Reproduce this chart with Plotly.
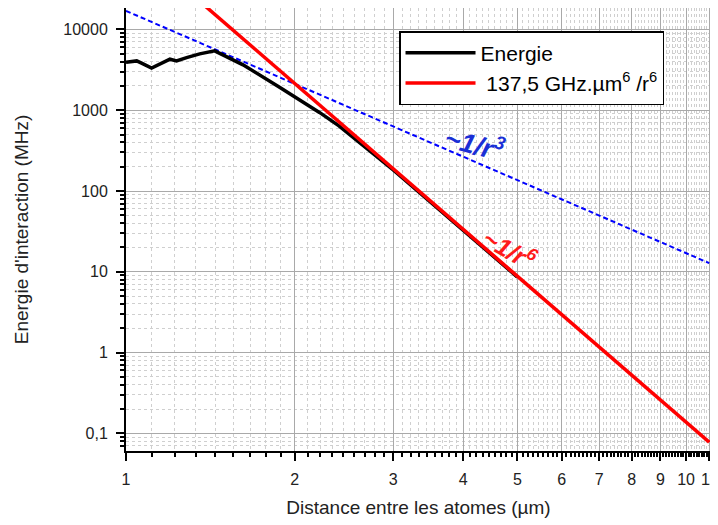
import numpy as np
import plotly.graph_objects as go

# Black curve "Energie"
energie_r = [1.0, 1.045, 1.066, 1.111, 1.198, 1.231, 1.283, 1.354, 1.44, 1.618, 1.88, 2.0,
             2.215, 2.4, 2.61, 2.833, 3.0, 3.3, 3.6, 4.0, 4.5, 5.0]
energie_v = [3940, 4085, 3830, 3320, 4285, 4085, 4490, 4990, 5430, 3650, 1930, 1480,
             940, 640, 401, 255, 182, 103, 61.5, 32.6, 16.1, 8.6]

# Red straight line (log-log) 137,5 GHz.um^6 / r^6 : endpoints
c6_r = [1.0, 11.0]
c6_v = [137500, 0.0776]

# Blue dashed ~1/r^3 guide : endpoints
c3_r = [1.0, 11.0]
c3_v = [17000, 12.8]

x_major = list(range(1, 12))
x_labels = [str(v) for v in x_major]
y_major = [0.1, 1, 10, 100, 1000, 10000]
y_labels = ["0,1", "1", "10", "100", "1000", "10000"]

x_minor = [k + j / 9 for k in range(1, 11) for j in range(1, 9)]
y_minor = [m * 10.0 ** e for e in range(-2, 5) for m in range(2, 10)]

FONT = "Liberation Sans, Arial, sans-serif"

fig = go.Figure()
fig.add_trace(go.Scatter(x=c3_r, y=c3_v, mode="lines", showlegend=False,
                         line=dict(color="#0000ff", width=2, dash="5px,3px")))
fig.add_trace(go.Scatter(x=energie_r, y=energie_v, mode="lines", name="Energie",
                         line=dict(color="black", width=3.5)))
fig.add_trace(go.Scatter(x=c6_r, y=c6_v, mode="lines",
                         name=" 137,5 GHz.µm<sup>6</sup> /r<sup>6</sup>",
                         line=dict(color="#ff0000", width=3.5)))

axis_common = dict(
    type="log", showline=True, linecolor="black", linewidth=2, mirror=True,
    ticks="outside", ticklen=8, tickwidth=1.5, tickcolor="black",
    showgrid=True, gridcolor="#a9a9a9", gridwidth=1, zeroline=False,
    tickfont=dict(family=FONT, size=16, color="#222"),
    ticklabelstandoff=5, automargin=False, ticklabeloverflow="allow",
    tickangle=0,
)
minor_common = dict(tickmode="array", ticks="outside", ticklen=4,
                    tickcolor="black", showgrid=True, gridcolor="#cfcfcf",
                    griddash="3px,3px", gridwidth=1)

fig.update_xaxes(
    **axis_common,
    range=[0, np.log10(11.08)],
    tickmode="array", tickvals=x_major, ticktext=x_labels,
    minor=dict(tickvals=x_minor, **minor_common),
    title=dict(text="Distance entre les atomes (µm)",
               font=dict(family=FONT, size=19, color="#222"), standoff=13),
)
fig.update_yaxes(
    **axis_common,
    range=[-1.219, 4.266],
    tickmode="array", tickvals=y_major, ticktext=y_labels,
    minor=dict(tickvals=y_minor, **minor_common),
    title=dict(text="Energie d'interaction (MHz)",
               font=dict(family=FONT, size=19, color="#222"), standoff=30),
)

fig.add_annotation(x=0.6232, y=2.593, xref="x", yref="y",
                   text="<b><i>~1/r<sup>3</sup></i></b>", showarrow=False,
                   textangle=15, font=dict(family=FONT, size=27, color="#1a2fd6"))
fig.add_annotation(x=0.684, y=1.29, xref="x", yref="y",
                   text="<b><i>~1/r<sup>6</sup></i></b>", showarrow=False,
                   textangle=30, font=dict(family=FONT, size=25, color="#ff1a1a"))

fig.update_layout(
    width=710, height=517,
    margin=dict(l=118, r=7, t=0, b=74, autoexpand=False),
    paper_bgcolor="white", plot_bgcolor="white",
    font=dict(family=FONT, color="#222"),
    legend=dict(x=0.4667, y=0.948, xanchor="left", yanchor="top",
                bgcolor="white", bordercolor="black", borderwidth=1.5,
                font=dict(family=FONT, size=21, color="black"),
                itemwidth=70),
)

fig.write_html("out.html")
